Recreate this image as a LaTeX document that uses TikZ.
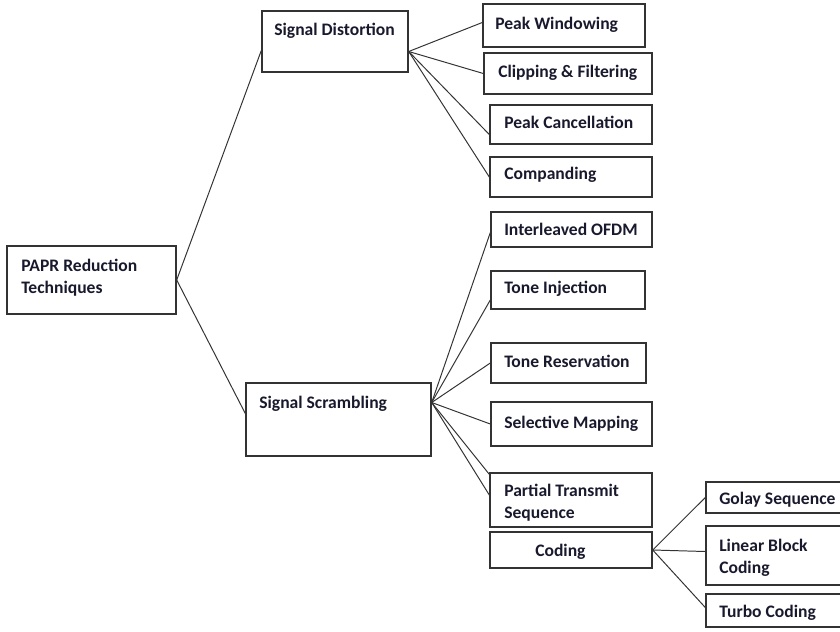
\documentclass[tikz,border=0pt]{standalone}
\usepackage{fontspec}
\setmainfont{Carlito}
\usetikzlibrary{fit,calc}
\definecolor{ink}{RGB}{25,25,45}

\begin{document}
\begin{tikzpicture}[x=0.025cm, y=-0.025cm,
    box/.style={draw=black!80, line width=1pt, inner sep=0pt},
    txt/.style={anchor=base west, inner sep=0pt, align=left, text=ink,
                font=\bfseries\fontsize{12.5}{15.5}\selectfont},
    link/.style={draw=black!80, line width=0.7pt}]

    \useasboundingbox (0,0) rectangle (840,631);

    % 1. 根节点与两大类
    \node[box, fit={(7,246) (176,314)}] (papr) {};
    \node[box, fit={(262,11) (408,72)}] (sd) {};
    \node[box, fit={(246,383) (431,456)}] (ss) {};

    % 2. 信号失真类
    \node[box, fit={(483,4) (645,47)}] (pw) {};
    \node[box, fit={(484,53) (652,94)}] (cf) {};
    \node[box, fit={(490,105) (652,144)}] (pc) {};
    \node[box, fit={(490,157) (652,197)}] (co) {};

    % 3. 信号加扰类
    \node[box, fit={(491,212) (652,247)}] (io) {};
    \node[box, fit={(491,271) (645,309)}] (ti) {};
    \node[box, fit={(491,343) (646,383)}] (tr) {};
    \node[box, fit={(491,402) (652,446)}] (sm) {};
    \node[box, fit={(490,473) (652,527)}] (pts) {};
    \node[box, fit={(490,532) (652,568)}] (cd) {};

    % 4. 编码类 (右边超出画面)
    \node[box, fit={(706,482) (845,513)}] (gs) {};
    \node[box, fit={(706,526) (845,585)}] (lbc) {};
    \node[box, fit={(706,594) (845,627)}] (tc) {};

    % 5. 文字 (多行的以最后一行基线定位)
    \node[txt] (papr-t) at (21,293) {PAPR Reduction\\Techniques};
    \node[txt] (sd-t) at (274,35) {Signal Distortion};
    \node[txt] (ss-t) at (259,408) {Signal Scrambling};
    \node[txt] (pw-t) at (495,29) {Peak Windowing};
    \node[txt] (cf-t) at (498,77) {Clipping \& Filtering};
    \node[txt] (pc-t) at (504,128) {Peak Cancellation};
    \node[txt] (co-t) at (504,179) {Companding};
    \node[txt] (io-t) at (504,235) {Interleaved OFDM};
    \node[txt] (ti-t) at (504,293) {Tone Injection};
    \node[txt] (tr-t) at (504,367) {Tone Reservation};
    \node[txt] (sm-t) at (504,428) {Selective Mapping};
    \node[txt] (pts-t) at (504,518) {Partial Transmit\\Sequence};
    \node[txt] (cd-t) at (535,556) {Coding};
    \node[txt] (gs-t) at (719,504) {Golay Sequence};
    \node[txt] (lbc-t) at (719,573) {Linear Block\\Coding};
    \node[txt] (tc-t) at (719,617) {Turbo Coding};

    % 6. 连线的出发点
    \coordinate (sd-out) at ($(sd.east)+(0,10)$);
    \coordinate (ss-out) at ($(ss.east)+(0,-17)$);

    % 7. 连线
    \draw[link] (papr.east) -- ($(sd.west)+(0,9)$);
    \draw[link] (papr.east) -- ($(ss.west)+(0,-6)$);

    \draw[link] (sd-out) -- ($(pw.west)+(0,-3)$);
    \draw[link] (sd-out) -- (cf.west);
    \draw[link] (sd-out) -- ($(pc.west)+(0,10)$);
    \draw[link] (sd-out) -- (co.west);

    \draw[link] (ss-out) -- ($(io.west)+(0,3)$);
    \draw[link] (ss-out) -- ($(ti.west)+(0,10)$);
    \draw[link] (ss-out) -- (tr.west);
    \draw[link] (ss-out) -- (sm.west);
    \draw[link] (ss-out) -- ($(pts.north west)+(0,2)$);
    \draw[link] (ss-out) -- ($(pts.west)+(0,-5)$);

    \draw[link] (cd.east) -- (gs.west);
    \draw[link] (cd.east) -- ($(lbc.west)+(0,-4)$);
    \draw[link] (cd.east) -- ($(tc.west)+(0,-3)$);

\end{tikzpicture}
\end{document}
